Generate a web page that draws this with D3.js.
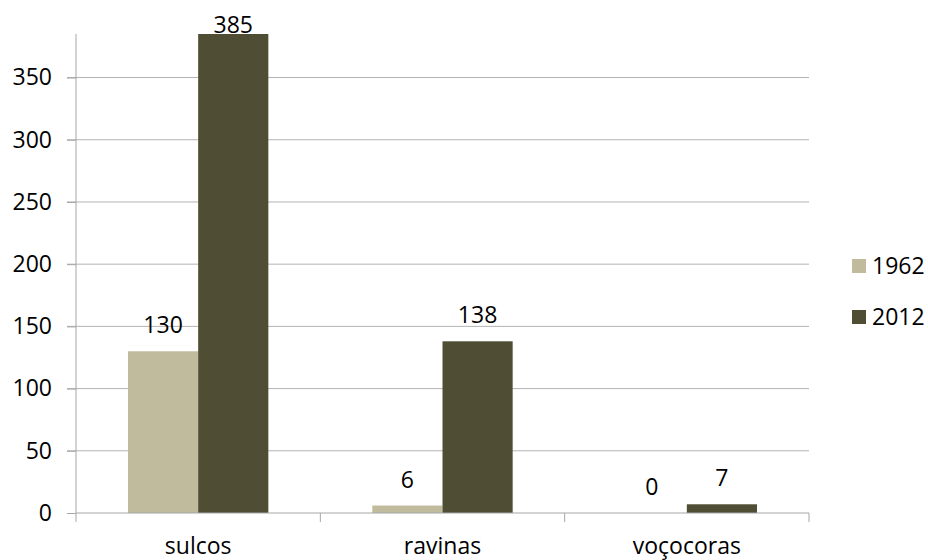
<!DOCTYPE html>
<html>
<head>
<meta charset="utf-8">
<script src="https://cdn.jsdelivr.net/npm/d3@7"></script>
<style>
  body { margin: 0; background: #fff; }
  text { font-family: "Open Sans", sans-serif; fill: #000; }
</style>
</head>
<body>
<div id="chart"></div>
<script>
// ─── DATA ───────────────────────────────────────────────────────────────────
const categories = ['sulcos', 'ravinas', 'voçocoras'];
const series = ['1962', '2012'];
const values1962 = [130, 6, 0];
const values2012 = [385, 138, 7];
const yTicks = [0, 50, 100, 150, 200, 250, 300, 350];
const colors = ['#c0bb9d', '#4f4d33'];

const rows = categories.map((c, i) => ({ cat: c, vals: [values1962[i], values2012[i]] }));

// ─── DIMENSIONS ─────────────────────────────────────────────────────────────
const W = 928, H = 560;
const margin = { top: 34, left: 76, right: 119, bottom: 47 };
const width = W - margin.left - margin.right;
const height = H - margin.top - margin.bottom;
const fs = '23px';

const svg = d3.select('#chart').append('svg')
  .attr('width', W).attr('height', H);
const g = svg.append('g').attr('transform', `translate(${margin.left},${margin.top})`);

// ─── SCALES ─────────────────────────────────────────────────────────────────
const y = d3.scaleLinear().domain([0, 385]).range([height, 0]);
const x0 = d3.scaleBand().domain(categories).range([0, width]).paddingInner(0).paddingOuter(0);
// inner bars take ~57% of a category slot
const x1 = d3.scaleBand().domain(series).range([52, x0.bandwidth() - 52]).padding(0);

// gridlines
g.selectAll('line.grid').data(yTicks.filter(t => t > 0)).enter().append('line')
  .attr('x1', -9).attr('x2', width)
  .attr('y1', d => y(d)).attr('y2', d => y(d))
  .attr('stroke', '#b3b3b3').attr('stroke-width', 1);

// y axis
const yAxis = g.append('g').call(d3.axisLeft(y).tickValues(yTicks).tickSize(9).tickPadding(15));
yAxis.select('.domain').attr('stroke', '#a6a6a6').attr('d', `M0,${height}V0`);
yAxis.selectAll('.tick line').attr('stroke', '#a6a6a6');
yAxis.selectAll('.tick text').style('font-size', fs).attr('fill', '#000');

// ─── BARS ───────────────────────────────────────────────────────────────────
const grp = g.selectAll('g.cat').data(rows).enter().append('g')
  .attr('transform', d => `translate(${x0(d.cat)},0)`);

grp.selectAll('rect').data(d => d.vals.map((v, i) => ({ s: series[i], v, i }))).enter()
  .append('rect')
  .attr('x', d => x1(d.s))
  .attr('width', x1.bandwidth())
  .attr('y', d => y(d.v))
  .attr('height', d => height - y(d.v))
  .attr('fill', d => colors[d.i]);

// data labels (kept inside the chart box at the top, like Excel does)
grp.selectAll('text.lbl').data(d => d.vals.map((v, i) => ({ s: series[i], v, i }))).enter()
  .append('text')
  .attr('x', d => x1(d.s) + x1.bandwidth() / 2)
  .attr('y', d => Math.max(y(d.v) - 26, -9))
  .attr('text-anchor', 'middle')
  .attr('dy', '0.35em')
  .style('font-size', fs)
  .text(d => d.v);

// x axis
const xAxis = g.append('g').attr('transform', `translate(0,${height})`)
  .call(d3.axisBottom(x0).tickSize(0).tickPadding(25));
xAxis.select('.domain').remove();
xAxis.selectAll('.tick text').style('font-size', fs).attr('fill', '#000');
g.append('line').attr('x1', 0).attr('x2', width).attr('y1', height).attr('y2', height)
  .attr('stroke', '#a6a6a6');
g.selectAll('line.xt').data(d3.range(categories.length + 1)).enter().append('line')
  .attr('x1', d => d * x0.step()).attr('x2', d => d * x0.step())
  .attr('y1', height).attr('y2', height + 9)
  .attr('stroke', '#a6a6a6');

// ─── LEGEND ─────────────────────────────────────────────────────────────────
const leg = svg.append('g').attr('transform', 'translate(852,259)');
series.forEach((s, i) => {
  const row = leg.append('g').attr('transform', `translate(0,${i * 51})`);
  row.append('rect').attr('width', 14).attr('height', 14).attr('fill', colors[i]);
  row.append('text').attr('x', 20).attr('y', 7).attr('dy', '0.35em')
    .style('font-size', fs).text(s);
});
</script>
</body>
</html>
